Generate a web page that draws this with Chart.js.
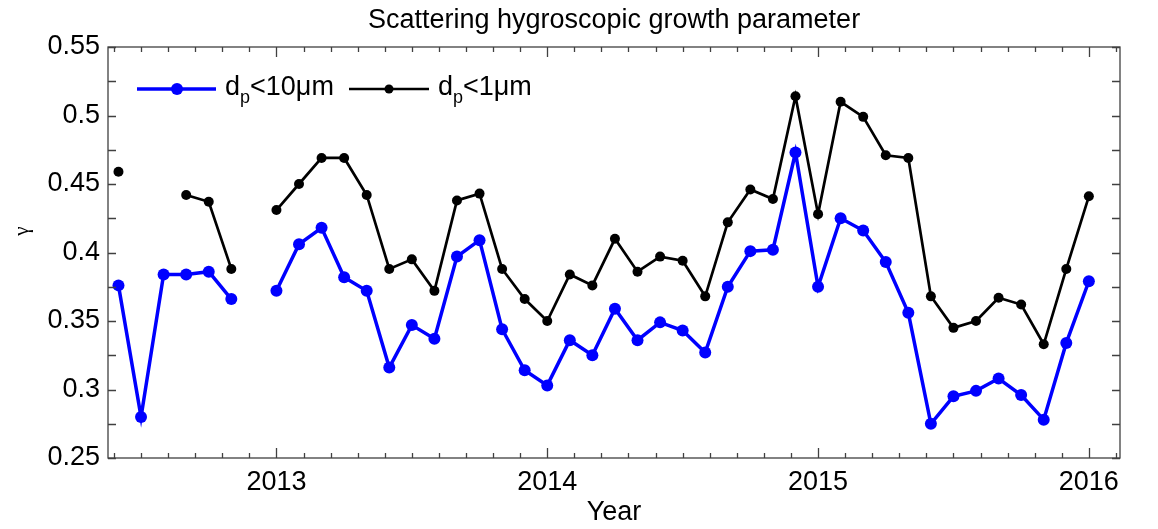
<!DOCTYPE html>
<html>
<head>
<meta charset="utf-8">
<script src="https://cdn.jsdelivr.net/npm/chart.js@4/dist/chart.umd.min.js"></script>
<style>
  body { margin: 0; background: #fff; }
  #wrap { width: 1158px; height: 529px; }
</style>
</head>
<body>
<div id="wrap"><canvas id="myChart"></canvas></div>
<script>
// monthly values, Jun 2012 .. Jan 2016
const months = [
  "2012-06","2012-07","2012-08","2012-09","2012-10","2012-11","2012-12",
  "2013-01","2013-02","2013-03","2013-04","2013-05","2013-06","2013-07","2013-08","2013-09","2013-10","2013-11","2013-12",
  "2014-01","2014-02","2014-03","2014-04","2014-05","2014-06","2014-07","2014-08","2014-09","2014-10","2014-11","2014-12",
  "2015-01","2015-02","2015-03","2015-04","2015-05","2015-06","2015-07","2015-08","2015-09","2015-10","2015-11","2015-12",
  "2016-01"
];
const gammaPM10 = [
  0.376, 0.280, 0.384, 0.384, 0.386, 0.366, null,
  0.372, 0.406, 0.418, 0.382, 0.372, 0.316, 0.347, 0.337, 0.397, 0.409, 0.344, 0.314,
  0.303, 0.336, 0.325, 0.359, 0.336, 0.349, 0.343, 0.327, 0.375, 0.401, 0.402, 0.473,
  0.375, 0.425, 0.416, 0.393, 0.356, 0.275, 0.295, 0.299, 0.308, 0.296, 0.278, 0.334,
  0.379
];
const gammaPM1 = [
  0.459, null, null, 0.442, 0.437, 0.388, null,
  0.431, 0.450, 0.469, 0.469, 0.442, 0.388, 0.395, 0.372, 0.438, 0.443, 0.388, 0.366,
  0.350, 0.384, 0.376, 0.410, 0.386, 0.397, 0.394, 0.368, 0.422, 0.446, 0.439, 0.514,
  0.428, 0.510, 0.499, 0.471, 0.469, 0.368, 0.345, 0.350, 0.367, 0.362, 0.333, 0.388,
  0.441
];
const xTicks = [2013, 2014, 2015, 2016];
const yTicks = [0.25, 0.3, 0.35, 0.4, 0.45, 0.5, 0.55];

const FONT = '"Liberation Sans", Arial, sans-serif';

// decimal year for each month (Jan = whole year)
const toYear = (m) => {
    const parts = m.split("-");
    return +parts[0] + (+parts[1] - 1) / 12;
}
const pts = (vals) => months.map((m, i) => ({ x: toYear(m), y: vals[i] }));

// title, frame, inward ticks, legend with subscript, y label
const decor = {
    id: 'decor',
    afterDraw(chart) {
        const { ctx, chartArea: a, scales: { x, y } } = chart;
        ctx.save();

        ctx.fillStyle = '#000';
        ctx.font = '27px ' + FONT;
        ctx.textAlign = 'center';
        ctx.textBaseline = 'alphabetic';
        ctx.fillText('Scattering hygroscopic growth parameter', (a.left + a.right) / 2, 28);

        ctx.strokeStyle = '#404040';
        ctx.lineWidth = 1.3;
        ctx.strokeRect(a.left, a.top, a.right - a.left, a.bottom - a.top);

        ctx.beginPath();
        for (let k = 0; k <= 37; k++) {
            const v = 2012.4 + k * 0.1;
            const px = Math.round(x.getPixelForValue(v)) + 0.5;
            const len = Math.abs(v - Math.round(v)) < 1e-6 ? 10 : 5;
            ctx.moveTo(px, a.bottom); ctx.lineTo(px, a.bottom - len);
            ctx.moveTo(px, a.top); ctx.lineTo(px, a.top + len);
        }
        for (let k = 0; k <= 12; k++) {
            const py = Math.round(y.getPixelForValue(0.25 + k * 0.025)) + 0.5;
            ctx.moveTo(a.left, py); ctx.lineTo(a.left + 8, py);
            ctx.moveTo(a.right, py); ctx.lineTo(a.right - 8, py);
        }
        ctx.stroke();

        // legend
        const entry = (x0, x1, mx, ly, color, lw, r, main, sub, rest) => {
            ctx.strokeStyle = color;
            ctx.lineWidth = lw;
            ctx.beginPath(); ctx.moveTo(x0, ly); ctx.lineTo(x1, ly); ctx.stroke();
            ctx.fillStyle = color;
            ctx.beginPath(); ctx.arc(mx, ly, r, 0, Math.PI * 2); ctx.fill();
            ctx.fillStyle = '#000';
            ctx.textBaseline = 'alphabetic';
            ctx.textAlign = 'left';
            let tx = x1 + 9;
            ctx.font = '27px ' + FONT;
            ctx.fillText(main, tx, ly + 6);
            tx += ctx.measureText(main).width;
            ctx.font = '18px ' + FONT;
            ctx.fillText(sub, tx, ly + 14);
            tx += ctx.measureText(sub).width;
            ctx.font = '27px ' + FONT;
            ctx.fillText(rest, tx, ly + 6);
        }
        entry(137, 216, 177, 89, '#0000ff', 3.5, 6, 'd', 'p', '<10\u03bcm');
        entry(349, 429, 389, 89, '#000000', 2.7, 4.5, 'd', 'p', '<1\u03bcm');

        // y axis label
        ctx.translate(22, 231);
        ctx.rotate(-Math.PI / 2);
        ctx.font = '21px "Liberation Serif", serif';
        ctx.textAlign = 'center';
        ctx.textBaseline = 'middle';
        ctx.fillText('\u03b3', 0, 0);
        ctx.restore();
    }
};

new Chart(document.getElementById('myChart'), {
    type: 'line',
    data: {
        datasets: [
            {
                label: 'dp<10\u03bcm',
                data: pts(gammaPM10),
                borderColor: '#0000ff',
                backgroundColor: '#0000ff',
                borderWidth: 3.5,
                pointRadius: 6,
                pointBorderWidth: 0,
                spanGaps: false,
                tension: 0
            },
            {
                label: 'dp<1\u03bcm',
                data: pts(gammaPM1),
                borderColor: '#000000',
                backgroundColor: '#000000',
                borderWidth: 2.7,
                pointRadius: 5,
                pointBorderWidth: 0,
                spanGaps: false,
                tension: 0
            }
        ]
    },
    options: {
        responsive: true,
        maintainAspectRatio: false,
        animation: false,
        layout: { padding: { left: 0, right: 38, top: 47, bottom: 0 } },
        plugins: {
            legend: { display: false },
            tooltip: { enabled: false },
            title: { display: false }
        },
        scales: {
            x: {
                type: 'linear',
                min: 2012.378,
                max: 2016.115,
                afterBuildTicks: (s) => { s.ticks = xTicks.map(v => ({ value: v })); },
                afterFit: (s) => { s.height = 71; },
                grid: { display: false, drawTicks: false },
                border: { display: false },
                ticks: {
                    color: '#000',
                    padding: 8,
                    maxRotation: 0,
                    font: { family: FONT, size: 27 },
                    callback: (v) => String(v)
                },
                title: {
                    display: true,
                    text: 'Year',
                    color: '#000',
                    font: { family: FONT, size: 27 },
                    padding: { top: 0, bottom: 0 }
                }
            },
            y: {
                min: 0.25,
                max: 0.55,
                afterBuildTicks: (s) => { s.ticks = yTicks.map(v => ({ value: v })); },
                afterFit: (s) => { s.width = 108; },
                grid: { display: false, drawTicks: false },
                border: { display: false },
                ticks: {
                    color: '#000',
                    padding: 8,
                    font: { family: FONT, size: 27 },
                    callback: (v) => String(+v.toFixed(2))
                }
            }
        }
    },
    plugins: [decor]
});
</script>
</body>
</html>
